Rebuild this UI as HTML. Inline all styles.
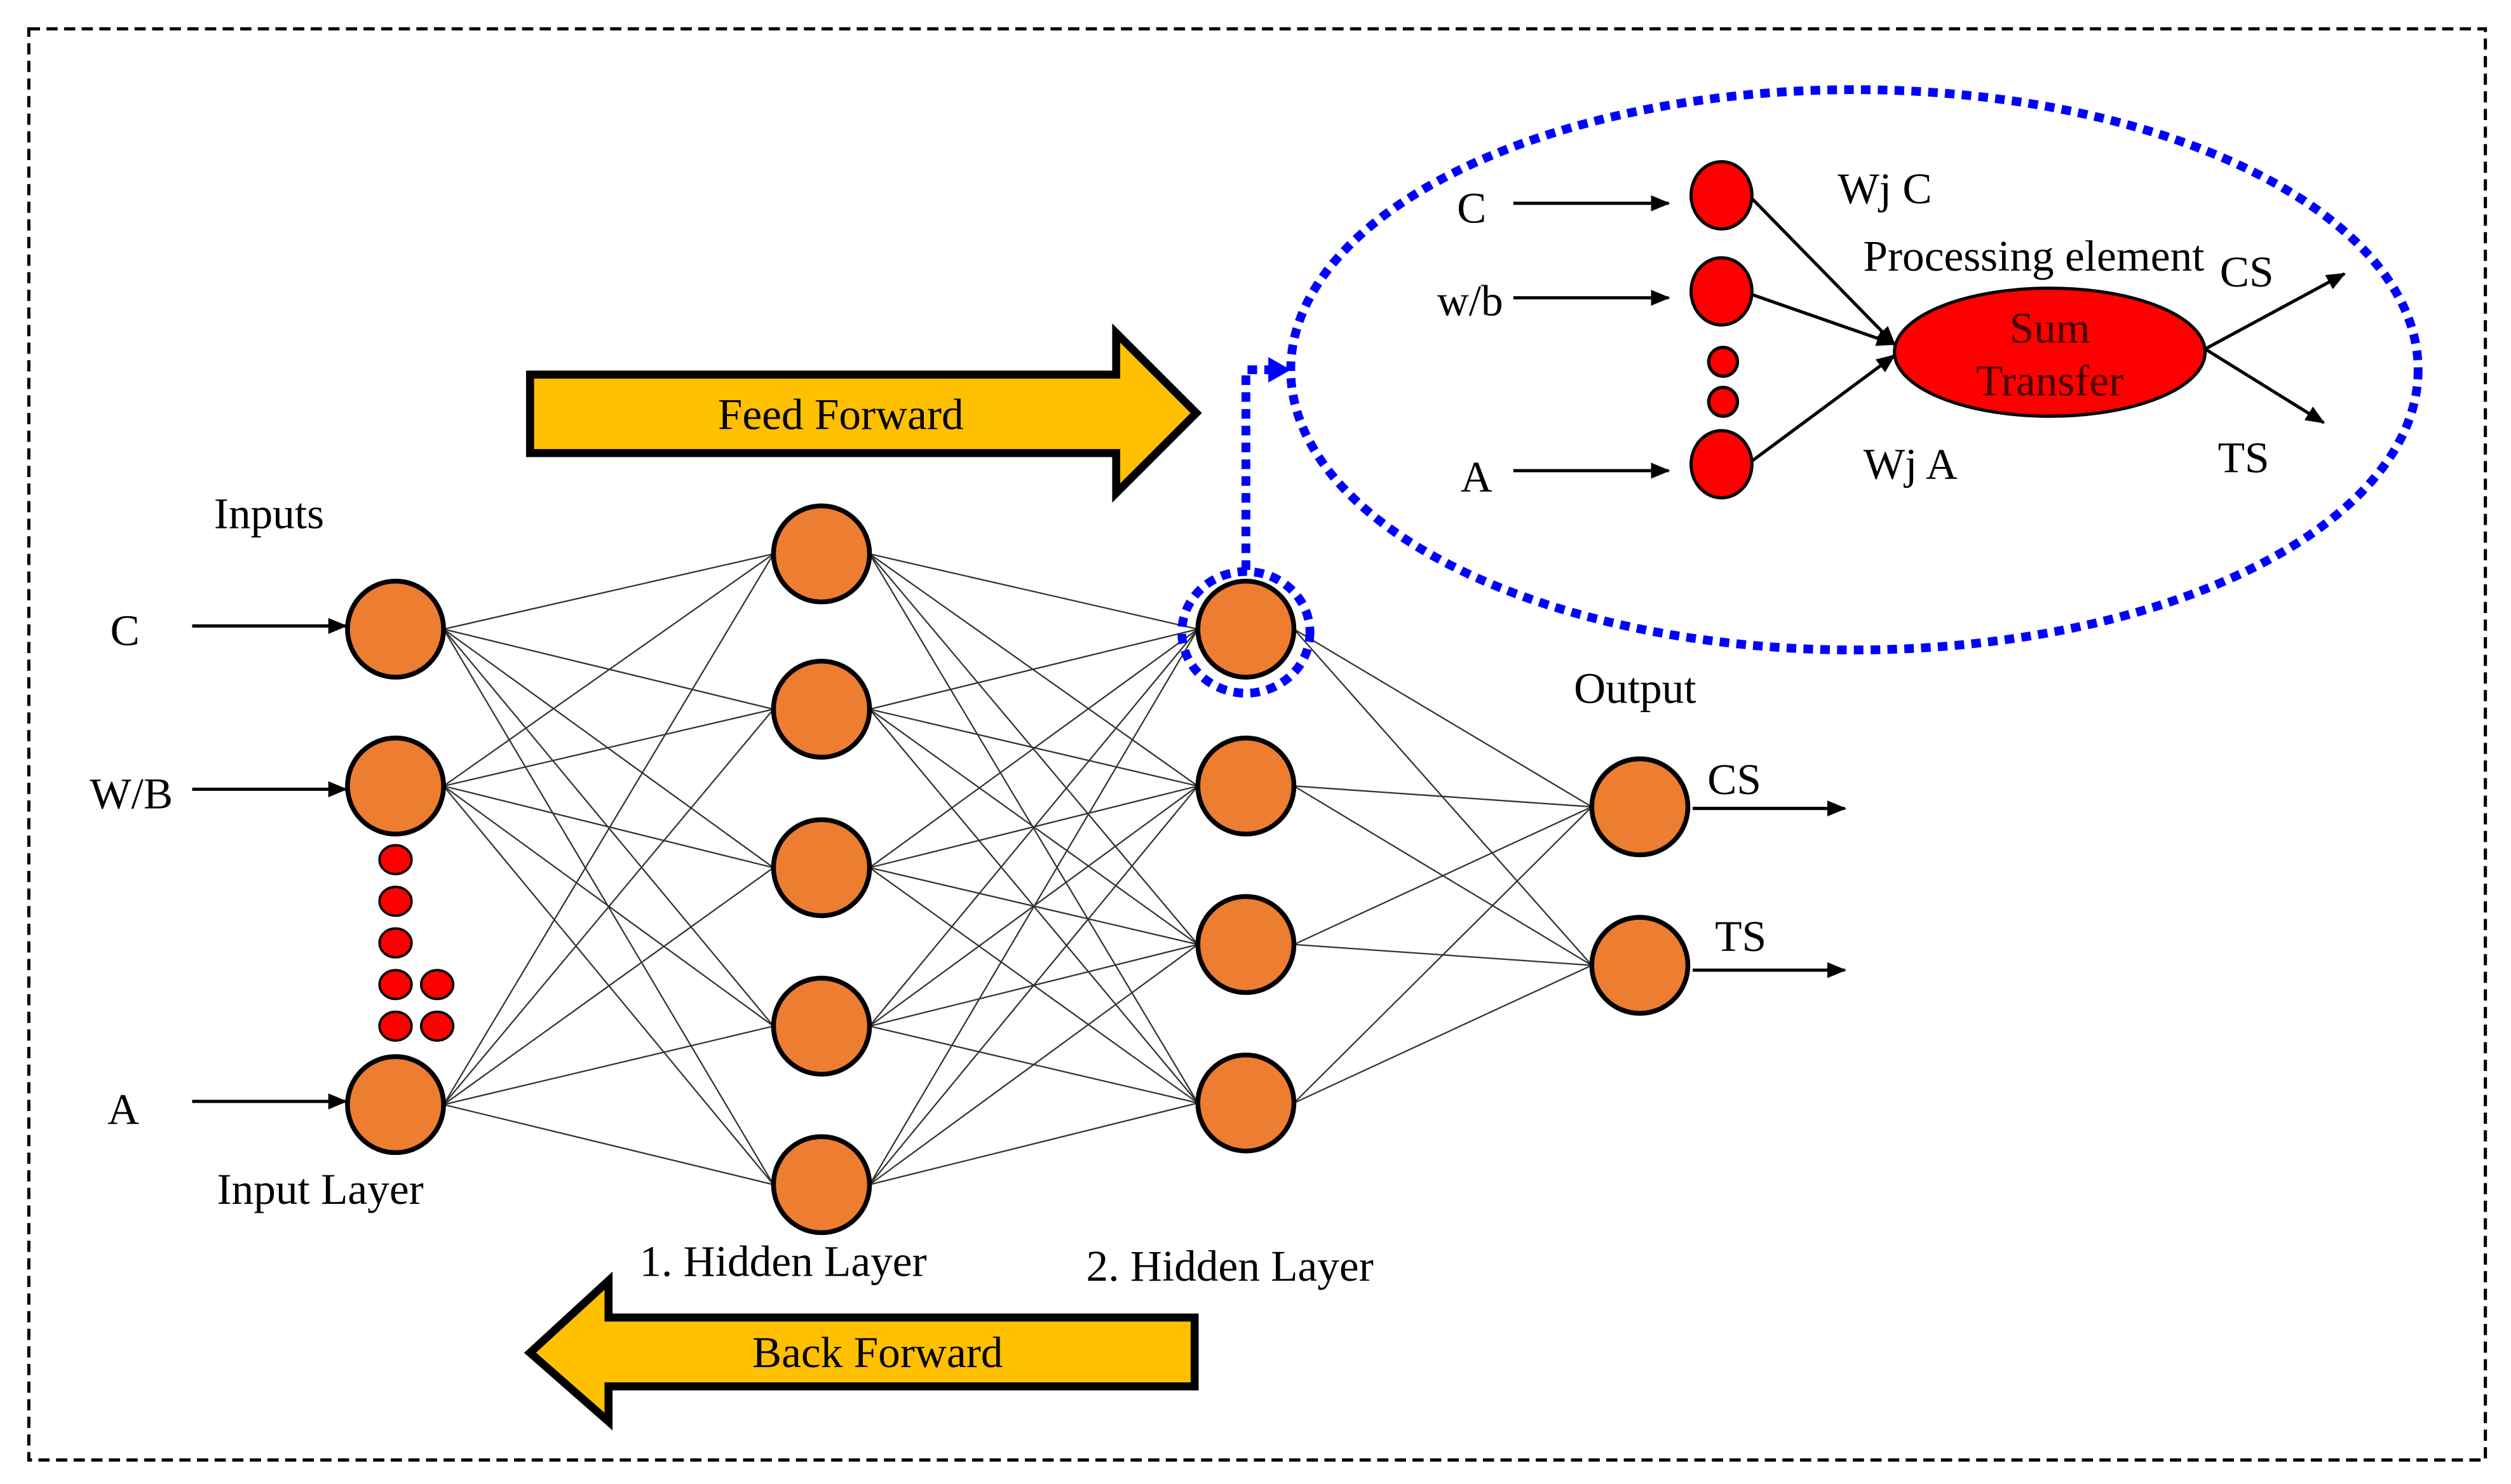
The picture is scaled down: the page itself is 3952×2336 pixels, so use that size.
<!DOCTYPE html>
<html><head><style>html,body{margin:0;padding:0;background:#fff}svg{display:block}</style></head>
<body>
<svg width="3952" height="2336" viewBox="0 0 1568 927" preserveAspectRatio="none" xmlns="http://www.w3.org/2000/svg" font-family="'Liberation Serif', serif" font-size="27.5">
<defs>
<marker id="ah" markerWidth="12" markerHeight="10" refX="11" refY="5" orient="auto" markerUnits="userSpaceOnUse"><path d="M0,0 L12,5 L0,10 z" fill="#000"/></marker>
</defs>
<rect x="18" y="18" width="1534" height="894" fill="none" stroke="#000" stroke-width="2" stroke-dasharray="7,4"/>
<g stroke="#333" stroke-width="0.9">
<line x1="277" y1="393" x2="483" y2="346"/><line x1="277" y1="393" x2="483" y2="443"/><line x1="277" y1="393" x2="483" y2="542"/><line x1="277" y1="393" x2="483" y2="641"/><line x1="277" y1="393" x2="483" y2="740"/>
<line x1="277" y1="491" x2="483" y2="346"/><line x1="277" y1="491" x2="483" y2="443"/><line x1="277" y1="491" x2="483" y2="542"/><line x1="277" y1="491" x2="483" y2="641"/><line x1="277" y1="491" x2="483" y2="740"/>
<line x1="277" y1="690" x2="483" y2="346"/><line x1="277" y1="690" x2="483" y2="443"/><line x1="277" y1="690" x2="483" y2="542"/><line x1="277" y1="690" x2="483" y2="641"/><line x1="277" y1="690" x2="483" y2="740"/>
<line x1="543" y1="346" x2="748" y2="393"/><line x1="543" y1="346" x2="748" y2="491"/><line x1="543" y1="346" x2="748" y2="590"/><line x1="543" y1="346" x2="748" y2="689"/>
<line x1="543" y1="443" x2="748" y2="393"/><line x1="543" y1="443" x2="748" y2="491"/><line x1="543" y1="443" x2="748" y2="590"/><line x1="543" y1="443" x2="748" y2="689"/>
<line x1="543" y1="542" x2="748" y2="393"/><line x1="543" y1="542" x2="748" y2="491"/><line x1="543" y1="542" x2="748" y2="590"/><line x1="543" y1="542" x2="748" y2="689"/>
<line x1="543" y1="641" x2="748" y2="393"/><line x1="543" y1="641" x2="748" y2="491"/><line x1="543" y1="641" x2="748" y2="590"/><line x1="543" y1="641" x2="748" y2="689"/>
<line x1="543" y1="740" x2="748" y2="393"/><line x1="543" y1="740" x2="748" y2="491"/><line x1="543" y1="740" x2="748" y2="590"/><line x1="543" y1="740" x2="748" y2="689"/>
<line x1="808" y1="393" x2="994" y2="504"/><line x1="808" y1="393" x2="994" y2="603"/>
<line x1="808" y1="491" x2="994" y2="504"/><line x1="808" y1="491" x2="994" y2="603"/>
<line x1="808" y1="590" x2="994" y2="504"/><line x1="808" y1="590" x2="994" y2="603"/>
<line x1="808" y1="689" x2="994" y2="504"/><line x1="808" y1="689" x2="994" y2="603"/>
</g>
<g fill="#ED7D31" stroke="#000" stroke-width="3">
<ellipse cx="247" cy="393" rx="30" ry="30"/><ellipse cx="247" cy="491" rx="30" ry="30"/><ellipse cx="247" cy="690" rx="30" ry="30"/>
<ellipse cx="513" cy="346" rx="30" ry="30"/><ellipse cx="513" cy="443" rx="30" ry="30"/><ellipse cx="513" cy="542" rx="30" ry="30"/><ellipse cx="513" cy="641" rx="30" ry="30"/><ellipse cx="513" cy="740" rx="30" ry="30"/>
<ellipse cx="778" cy="393" rx="30" ry="30"/><ellipse cx="778" cy="491" rx="30" ry="30"/><ellipse cx="778" cy="590" rx="30" ry="30"/><ellipse cx="778" cy="689" rx="30" ry="30"/>
<ellipse cx="1024" cy="504" rx="30" ry="30"/><ellipse cx="1024" cy="603" rx="30" ry="30"/>
</g>
<g fill="#f00" stroke="#000" stroke-width="1.5">
<ellipse cx="247" cy="537" rx="10" ry="9"/><ellipse cx="247" cy="563" rx="10" ry="9"/><ellipse cx="247" cy="589" rx="10" ry="9"/><ellipse cx="247" cy="615" rx="10" ry="9"/><ellipse cx="247" cy="641" rx="10" ry="9"/>
<ellipse cx="273" cy="615" rx="10" ry="9"/><ellipse cx="273" cy="641" rx="10" ry="9"/>
</g>
<g stroke="#000" stroke-width="2" marker-end="url(#ah)">
<line x1="120" y1="391" x2="216" y2="391"/><line x1="120" y1="493" x2="216" y2="493"/><line x1="120" y1="688" x2="216" y2="688"/>
<line x1="1057" y1="505" x2="1152" y2="505"/><line x1="1057" y1="606" x2="1152" y2="606"/>
<line x1="945" y1="127" x2="1042" y2="127"/><line x1="945" y1="186" x2="1042" y2="186"/><line x1="945" y1="294" x2="1042" y2="294"/>
<line x1="1094" y1="124" x2="1183" y2="215"/><line x1="1094" y1="184" x2="1183" y2="215"/><line x1="1094" y1="288" x2="1183" y2="222"/>
<line x1="1377" y1="218" x2="1464" y2="171"/><line x1="1377" y1="218" x2="1451" y2="264"/>
</g>
<g fill="#000" xml:space="preserve">
<text x="78" y="403" text-anchor="middle">C</text>
<text x="82" y="505" text-anchor="middle">W/B</text>
<text x="77" y="702" text-anchor="middle">A</text>
<text x="168" y="330" text-anchor="middle">Inputs</text>
<text x="200" y="752" text-anchor="middle">Input Layer</text>
<text x="489" y="797" text-anchor="middle">1.  Hidden Layer</text>
<text x="768" y="800" text-anchor="middle">2.  Hidden Layer</text>
<text x="1021" y="439" text-anchor="middle">Output</text>
<text x="1083" y="496" text-anchor="middle">CS</text>
<text x="1087" y="594" text-anchor="middle">TS</text>
</g>
<ellipse cx="778" cy="395" rx="40" ry="38" fill="none" stroke="#00f" stroke-width="5.5" stroke-dasharray="6,4.5"/>
<polyline points="778,356 778,231 797,231" fill="none" stroke="#00f" stroke-width="5.5" stroke-dasharray="6,4.5"/>
<path d="M792,223 L806,231 L792,239 z" fill="#00f"/>
<ellipse cx="1158" cy="231" rx="352" ry="175" fill="none" stroke="#00f" stroke-width="5.5" stroke-dasharray="6,4.5"/>
<g fill="#f00" stroke="#000" stroke-width="2">
<ellipse cx="1075" cy="122" rx="19" ry="21"/><ellipse cx="1075" cy="182" rx="19" ry="21"/><ellipse cx="1075" cy="290" rx="19" ry="21"/>
<ellipse cx="1076" cy="226" rx="9" ry="9"/><ellipse cx="1076" cy="251" rx="9" ry="9"/>
<ellipse cx="1280" cy="220" rx="97" ry="40"/>
</g>
<g fill="#000">
<text x="919" y="139" text-anchor="middle">C</text>
<text x="918" y="197" text-anchor="middle">w/b</text>
<text x="922" y="307" text-anchor="middle">A</text>
<text x="1177" y="127" text-anchor="middle">Wj C</text>
<text x="1193" y="299" text-anchor="middle">Wj A</text>
<text x="1270" y="169" text-anchor="middle">Processing element</text>
<text x="1403" y="179" text-anchor="middle">CS</text>
<text x="1401" y="295" text-anchor="middle">TS</text>
<text x="1280" y="214" text-anchor="middle" fill="#400">Sum</text>
<text x="1280" y="247" text-anchor="middle" fill="#400">Transfer</text>
</g>
<path d="M331,234 L697,234 L697,208 L747,258 L697,308 L697,283 L331,283 z" fill="#FFC000" stroke="#000" stroke-width="5" stroke-linejoin="miter"/>
<text x="525" y="268" text-anchor="middle">Feed Forward</text>
<path d="M746,823 L380,823 L380,800 L331,845 L380,888 L380,866 L746,866 z" fill="#FFC000" stroke="#000" stroke-width="5" stroke-linejoin="miter"/>
<text x="548" y="854" text-anchor="middle">Back Forward</text>
</svg>
</body></html>
